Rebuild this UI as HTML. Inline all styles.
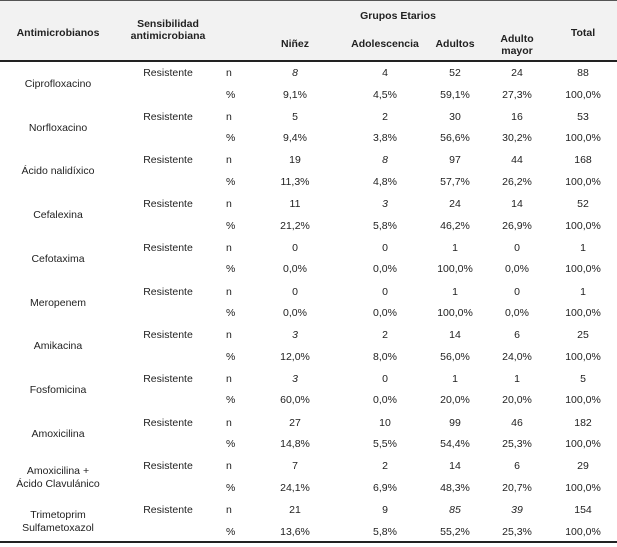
<!DOCTYPE html>
<html><head><meta charset="utf-8"><style>
body{margin:0;background:#fff;width:617px;height:547px;overflow:hidden;position:relative;font-family:"Liberation Sans","DejaVu Sans",sans-serif;font-size:10.5px;color:#222}
.hd{position:absolute;left:0;top:0;width:617px;height:61px;background:#f2f2f2;border-top:1px solid #555;box-sizing:border-box}
.ln{position:absolute;left:0;width:617px;height:2px;background:#222}
.h{position:absolute;font-weight:bold;text-align:center;line-height:12px;transform:translate(-50%,-50%);white-space:nowrap}
.r{position:absolute;left:0;width:617px;height:43.7px}
.r span{position:absolute;height:21.5px;line-height:21.5px;text-align:center;white-space:nowrap}
.r .t{top:0}.r .p{top:21.5px}
.a{left:0;width:116px;top:0!important;height:43.7px!important;line-height:43.7px!important}
.a2{line-height:13px!important;padding-top:9px;box-sizing:border-box}
.b{left:116px;width:104px}
.n{left:226px;width:20px;text-align:left!important}
.c1{left:255px;width:80px}.c2{left:345px;width:80px}.c3{left:415px;width:80px}.c4{left:477px;width:80px}.c5{left:543px;width:80px}
.i{font-style:italic}
</style></head><body>
<div class="hd"></div>
<div class="ln" style="top:60px"></div>
<div class="ln" style="top:541px"></div>
<div class="h" style="left:58px;top:33px">Antimicrobianos</div>
<div class="h" style="left:168px;top:30px">Sensibilidad<br>antimicrobiana</div>
<div class="h" style="left:398px;top:16px">Grupos Etarios</div>
<div class="h" style="left:295px;top:44px">Niñez</div>
<div class="h" style="left:385px;top:44px">Adolescencia</div>
<div class="h" style="left:455px;top:44px">Adultos</div>
<div class="h" style="left:517px;top:45px">Adulto<br>mayor</div>
<div class="h" style="left:583px;top:33px">Total</div>

<div class="r" style="top:63px"><span class="a">Ciprofloxacino</span><span class="b t">Resistente</span><span class="n t">n</span><span class="c1 t i">8</span><span class="c2 t">4</span><span class="c3 t">52</span><span class="c4 t">24</span><span class="c5 t">88</span><span class="n p">%</span><span class="c1 p">9,1%</span><span class="c2 p">4,5%</span><span class="c3 p">59,1%</span><span class="c4 p">27,3%</span><span class="c5 p">100,0%</span></div>
<div class="r" style="top:106.7px"><span class="a">Norfloxacino</span><span class="b t">Resistente</span><span class="n t">n</span><span class="c1 t">5</span><span class="c2 t">2</span><span class="c3 t">30</span><span class="c4 t">16</span><span class="c5 t">53</span><span class="n p">%</span><span class="c1 p">9,4%</span><span class="c2 p">3,8%</span><span class="c3 p">56,6%</span><span class="c4 p">30,2%</span><span class="c5 p">100,0%</span></div>
<div class="r" style="top:150.4px"><span class="a">Ácido nalidíxico</span><span class="b t">Resistente</span><span class="n t">n</span><span class="c1 t">19</span><span class="c2 t i">8</span><span class="c3 t">97</span><span class="c4 t">44</span><span class="c5 t">168</span><span class="n p">%</span><span class="c1 p">11,3%</span><span class="c2 p">4,8%</span><span class="c3 p">57,7%</span><span class="c4 p">26,2%</span><span class="c5 p">100,0%</span></div>
<div class="r" style="top:194.1px"><span class="a">Cefalexina</span><span class="b t">Resistente</span><span class="n t">n</span><span class="c1 t">11</span><span class="c2 t i">3</span><span class="c3 t">24</span><span class="c4 t">14</span><span class="c5 t">52</span><span class="n p">%</span><span class="c1 p">21,2%</span><span class="c2 p">5,8%</span><span class="c3 p">46,2%</span><span class="c4 p">26,9%</span><span class="c5 p">100,0%</span></div>
<div class="r" style="top:237.8px"><span class="a">Cefotaxima</span><span class="b t">Resistente</span><span class="n t">n</span><span class="c1 t">0</span><span class="c2 t">0</span><span class="c3 t">1</span><span class="c4 t">0</span><span class="c5 t">1</span><span class="n p">%</span><span class="c1 p">0,0%</span><span class="c2 p">0,0%</span><span class="c3 p">100,0%</span><span class="c4 p">0,0%</span><span class="c5 p">100,0%</span></div>
<div class="r" style="top:281.5px"><span class="a">Meropenem</span><span class="b t">Resistente</span><span class="n t">n</span><span class="c1 t">0</span><span class="c2 t">0</span><span class="c3 t">1</span><span class="c4 t">0</span><span class="c5 t">1</span><span class="n p">%</span><span class="c1 p">0,0%</span><span class="c2 p">0,0%</span><span class="c3 p">100,0%</span><span class="c4 p">0,0%</span><span class="c5 p">100,0%</span></div>
<div class="r" style="top:325.2px"><span class="a">Amikacina</span><span class="b t">Resistente</span><span class="n t">n</span><span class="c1 t i">3</span><span class="c2 t">2</span><span class="c3 t">14</span><span class="c4 t">6</span><span class="c5 t">25</span><span class="n p">%</span><span class="c1 p">12,0%</span><span class="c2 p">8,0%</span><span class="c3 p">56,0%</span><span class="c4 p">24,0%</span><span class="c5 p">100,0%</span></div>
<div class="r" style="top:368.9px"><span class="a">Fosfomicina</span><span class="b t">Resistente</span><span class="n t">n</span><span class="c1 t i">3</span><span class="c2 t">0</span><span class="c3 t">1</span><span class="c4 t">1</span><span class="c5 t">5</span><span class="n p">%</span><span class="c1 p">60,0%</span><span class="c2 p">0,0%</span><span class="c3 p">20,0%</span><span class="c4 p">20,0%</span><span class="c5 p">100,0%</span></div>
<div class="r" style="top:412.6px"><span class="a">Amoxicilina</span><span class="b t">Resistente</span><span class="n t">n</span><span class="c1 t">27</span><span class="c2 t">10</span><span class="c3 t">99</span><span class="c4 t">46</span><span class="c5 t">182</span><span class="n p">%</span><span class="c1 p">14,8%</span><span class="c2 p">5,5%</span><span class="c3 p">54,4%</span><span class="c4 p">25,3%</span><span class="c5 p">100,0%</span></div>
<div class="r" style="top:456.3px"><span class="a a2">Amoxicilina +<br>Ácido Clavulánico</span><span class="b t">Resistente</span><span class="n t">n</span><span class="c1 t">7</span><span class="c2 t">2</span><span class="c3 t">14</span><span class="c4 t">6</span><span class="c5 t">29</span><span class="n p">%</span><span class="c1 p">24,1%</span><span class="c2 p">6,9%</span><span class="c3 p">48,3%</span><span class="c4 p">20,7%</span><span class="c5 p">100,0%</span></div>
<div class="r" style="top:500px"><span class="a a2">Trimetoprim<br>Sulfametoxazol</span><span class="b t">Resistente</span><span class="n t">n</span><span class="c1 t">21</span><span class="c2 t">9</span><span class="c3 t i">85</span><span class="c4 t i">39</span><span class="c5 t">154</span><span class="n p">%</span><span class="c1 p">13,6%</span><span class="c2 p">5,8%</span><span class="c3 p">55,2%</span><span class="c4 p">25,3%</span><span class="c5 p">100,0%</span></div>
</body></html>
